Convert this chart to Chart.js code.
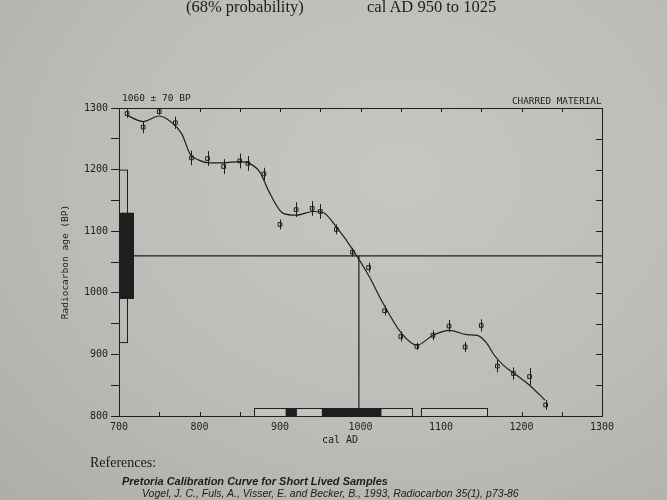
<!DOCTYPE html>
<html>
<head>
<meta charset="utf-8">
<script src="https://cdn.jsdelivr.net/npm/chart.js@4.4.0/dist/chart.umd.min.js"></script>
<style>
html, body { margin: 0; padding: 0; }
body {
    width: 667px; height: 500px; overflow: hidden; position: relative;
    background: radial-gradient(ellipse at 60% 35%, #c6c6c2 0%, #bcbcb8 55%, #aeaea9 100%);
}
canvas { position: absolute; left: 0; top: 0; }
.t { position: absolute; white-space: nowrap; color: #1c1c1c; line-height: 1; }
.serif { font-family: "Liberation Serif", "DejaVu Serif", serif; }
.mono { font-family: "DejaVu Sans Mono", monospace; }
.narrow { font-family: "Liberation Sans Narrow", "Liberation Sans", sans-serif; font-style: italic; }
</style>
</head>
<body>
<canvas id="myChart" width="667" height="500"></canvas>

<div class="t serif" style="left:186px; top:-1px; font-size:16.5px;">(68% probability)</div>
<div class="t serif" style="left:367px; top:-1px; font-size:16.5px;">cal AD 950 to 1025</div>
<div class="t mono" style="left:122px; top:93px; font-size:9.5px;">1060 ± 70 BP</div>
<div class="t mono" style="left:512px; top:96px; font-size:9.3px;">CHARRED MATERIAL</div>
<div class="t mono" style="left:322px; top:435px; font-size:10px;">cal AD</div>
<div class="t serif" style="left:90px; top:456px; font-size:14px;">References:</div>
<div class="t narrow" style="left:122px; top:476px; font-size:11px; font-weight:bold;">Pretoria Calibration Curve for Short Lived Samples</div>
<div class="t narrow" style="left:142px; top:488px; font-size:10.5px;">Vogel, J. C., Fuls, A., Visser, E. and Becker, B., 1993, Radiocarbon 35(1), p73-86</div>

<script>
// Datos de la curva de calibracion
const curveYears = [710, 730, 750, 765, 778, 788, 800, 813, 830, 850, 862, 875, 886, 904, 920, 941, 954, 970, 991, 1011, 1028, 1051, 1070, 1090, 1111, 1132, 1145, 1157, 1166, 1177, 1194, 1210, 1229];
const curveBP = [1288, 1278, 1287, 1277, 1258, 1226, 1215, 1211, 1211, 1213, 1210, 1196, 1165, 1129, 1126, 1132, 1130, 1107, 1069, 1026, 983, 934, 915, 931, 939, 932, 931, 918, 899, 883, 866, 850, 826];

// Mediciones con error
const sampleYears = [710, 730, 750, 770, 790, 810, 830, 850, 860, 880, 900, 920, 940, 950, 970, 990, 1010, 1030, 1050, 1070, 1090, 1110, 1130, 1150, 1170, 1190, 1210, 1230];
const sampleBP = [1291, 1269, 1294, 1276, 1219, 1218, 1205, 1214, 1210, 1193, 1111, 1135, 1137, 1132, 1103, 1066, 1041, 971, 929, 913, 931, 946, 912, 947, 881, 869, 864, 818];
const sampleErr = [7, 10, 5, 10, 12, 12, 12, 12, 12, 10, 8, 12, 12, 12, 8, 7, 8, 8, 8, 6, 8, 10, 8, 10, 10, 10, 14, 8];

// Edad medida y rangos
const measuredBP = 1060;
const interceptYear = 998;
const sigma1BP = [990, 1130];
const sigma2BP = [920, 1200];
const sigma1AD = [[907, 921], [952, 1026]];
const sigma2AD = [[868, 1064], [1075, 1157]];

// Ejes
const xRange = [700, 1300];
const yRange = [800, 1300];
const xTickLabels = [700, 800, 900, 1000, 1100, 1200, 1300];
const yTickLabels = [800, 900, 1000, 1100, 1200, 1300];

const ink = '#1e1e1e';

const extras = {
    id: 'extras',
    afterDatasetsDraw(chart) {
        const c = chart.ctx;
        const a = chart.chartArea;
        const xs = chart.scales.x;
        const ys = chart.scales.y;
        c.save();
        c.strokeStyle = ink;
        c.fillStyle = ink;
        c.lineWidth = 1;

        // barras de error
        for (let i = 0; i < sampleYears.length; i++) {
            const px = Math.round(xs.getPixelForValue(sampleYears[i])) + 0.5;
            c.beginPath();
            c.moveTo(px, ys.getPixelForValue(sampleBP[i] + sampleErr[i]));
            c.lineTo(px, ys.getPixelForValue(sampleBP[i] - sampleErr[i]));
            c.stroke();
        }

        // marco
        c.strokeRect(a.left + 0.5, a.top + 0.5, a.right - a.left, a.bottom - a.top);

        // ticks hacia adentro
        for (let v = xRange[0]; v <= xRange[1]; v += 50) {
            const px = Math.round(xs.getPixelForValue(v)) + 0.5;
            c.beginPath();
            c.moveTo(px, a.top); c.lineTo(px, a.top + 4);
            c.moveTo(px, a.bottom); c.lineTo(px, a.bottom - 4);
            c.stroke();
        }
        for (let v = yRange[0]; v <= yRange[1]; v += 50) {
            const py = Math.round(ys.getPixelForValue(v)) + 0.5;
            c.beginPath();
            c.moveTo(a.right, py); c.lineTo(a.right - 6, py);
            c.stroke();
        }

        // cajas de probabilidad en eje y
        const y2t = ys.getPixelForValue(sigma2BP[1]);
        const y2b = ys.getPixelForValue(sigma2BP[0]);
        c.strokeRect(a.left + 0.5, y2t + 0.5, 8, y2b - y2t);
        const y1t = ys.getPixelForValue(sigma1BP[1]);
        const y1b = ys.getPixelForValue(sigma1BP[0]);
        c.fillRect(a.left, y1t, 15, y1b - y1t);

        // cajas de probabilidad en eje x
        sigma2AD.forEach(r => {
            const l = xs.getPixelForValue(r[0]);
            const rr = xs.getPixelForValue(r[1]);
            c.fillStyle = '#c4c4c0';
            c.fillRect(l, a.bottom - 8, rr - l, 8);
            c.strokeRect(Math.round(l) + 0.5, a.bottom - 7.5, Math.round(rr - l), 8);
        });
        c.fillStyle = ink;
        sigma1AD.forEach(r => {
            const l = xs.getPixelForValue(r[0]);
            const rr = xs.getPixelForValue(r[1]);
            c.fillRect(l, a.bottom - 8, rr - l, 8);
        });
        c.restore();
    }
};

const ctx = document.getElementById('myChart');
new Chart(ctx, {
    type: 'scatter',
    data: {
        datasets: [
            {
                type: 'line',
                data: curveYears.map((x, i) => ({ x: x, y: curveBP[i] })),
                borderColor: ink,
                borderWidth: 1.2,
                pointRadius: 0,
                cubicInterpolationMode: 'monotone',
                fill: false
            },
            {
                data: sampleYears.map((x, i) => ({ x: x, y: sampleBP[i] })),
                pointStyle: 'rect',
                pointRadius: 2.6,
                backgroundColor: 'rgba(0,0,0,0)',
                borderColor: ink,
                borderWidth: 1
            },
            {
                type: 'line',
                data: [{ x: xRange[0], y: measuredBP }, { x: xRange[1], y: measuredBP }],
                borderColor: ink,
                borderWidth: 1.2,
                pointRadius: 0
            },
            {
                type: 'line',
                data: [{ x: interceptYear, y: measuredBP }, { x: interceptYear, y: yRange[0] }],
                borderColor: ink,
                borderWidth: 1.2,
                pointRadius: 0
            }
        ]
    },
    options: {
        responsive: false,
        animation: false,
        events: [],
        layout: { padding: { left: 60, right: 65, top: 108, bottom: 0 } },
        plugins: { legend: { display: false }, tooltip: { enabled: false } },
        scales: {
            x: {
                type: 'linear',
                min: xRange[0],
                max: xRange[1],
                afterFit: s => { s.height = 84; },
                afterBuildTicks: s => { s.ticks = xTickLabels.map(v => ({ value: v })); },
                grid: { display: false, drawTicks: false },
                border: { display: false },
                ticks: {
                    padding: 5,
                    color: ink,
                    maxRotation: 0,
                    font: { family: 'DejaVu Sans Mono', size: 10 },
                    callback: v => String(v)
                }
            },
            y: {
                min: yRange[0],
                max: yRange[1],
                afterFit: s => { s.width = 59; },
                ticks: {
                    stepSize: 50,
                    padding: 3,
                    color: ink,
                    font: { family: 'DejaVu Sans Mono', size: 10 },
                    callback: v => (yTickLabels.includes(v) ? String(v) : '')
                },
                grid: { drawOnChartArea: false, tickLength: 8, color: ink },
                border: { display: false },
                title: {
                    display: true,
                    text: 'Radiocarbon age (BP)',
                    color: ink,
                    padding: 0,
                    font: { family: 'DejaVu Sans Mono', size: 9.5 }
                }
            }
        }
    },
    plugins: [extras]
});
</script>
</body>
</html>
